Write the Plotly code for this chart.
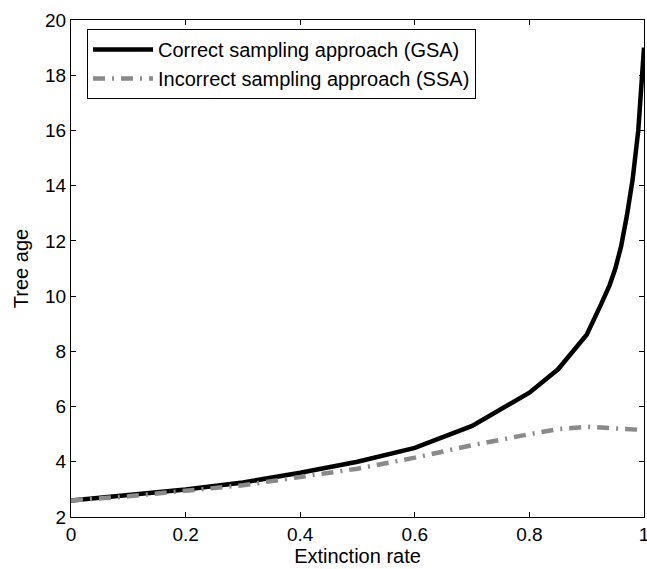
import plotly.graph_objects as go

gsa_x = [0.0, 0.1, 0.2, 0.3, 0.4, 0.5, 0.6, 0.7, 0.8, 0.85, 0.9, 0.925, 0.94, 0.95, 0.96, 0.97, 0.98, 0.99, 1.0]
gsa_y = [2.6, 2.8, 3.0, 3.25, 3.6, 4.0, 4.5, 5.3, 6.5, 7.35, 8.6, 9.7, 10.4, 11.0, 11.8, 12.9, 14.2, 16.0, 19.0]

ssa_x = [0.0, 0.1, 0.2, 0.3, 0.4, 0.5, 0.6, 0.7, 0.8, 0.85, 0.9, 0.95, 1.0]
ssa_y = [2.6, 2.75, 2.95, 3.15, 3.45, 3.75, 4.15, 4.6, 5.0, 5.18, 5.27, 5.2, 5.15]

x_ticks = [0, 0.2, 0.4, 0.6, 0.8, 1]
x_labels = ["0", "0.2", "0.4", "0.6", "0.8", "1"]
y_ticks = [2, 4, 6, 8, 10, 12, 14, 16, 18, 20]

font = "Liberation Sans, Arial, Helvetica, sans-serif"

fig = go.Figure()
fig.add_trace(go.Scatter(x=gsa_x, y=gsa_y, mode="lines",
                         name="Correct sampling approach (GSA)",
                         line=dict(color="black", width=4.5)))
fig.add_trace(go.Scatter(x=ssa_x, y=ssa_y, mode="lines",
                         name="Incorrect sampling approach (SSA)",
                         line=dict(color="#8a8a8a", width=4.5, dash="12px,7px,2px,7px")))

axis_common = dict(showline=True, linecolor="black", linewidth=1, mirror="ticks",
                   ticks="inside", ticklen=5, tickcolor="black", showgrid=False,
                   zeroline=False, ticklabeloverflow="allow", automargin=False,
                   tickfont=dict(size=19, color="black", family=font))

fig.update_layout(
    width=647, height=569,
    margin=dict(l=71, r=3, t=20, b=52),
    paper_bgcolor="white", plot_bgcolor="white",
    font=dict(family=font, color="black"),
    xaxis=dict(range=[0, 1], tickvals=x_ticks, ticktext=x_labels,
               title=dict(text="Extinction rate", font=dict(size=20, color="black", family=font), standoff=3),
               **axis_common),
    yaxis=dict(range=[2, 20], tickvals=y_ticks,
               title=dict(text="Tree age", font=dict(size=20, color="black", family=font), standoff=11),
               **axis_common),
    legend=dict(x=0.028, y=0.982, xanchor="left", yanchor="top",
                bordercolor="black", borderwidth=1, bgcolor="white",
                font=dict(size=20, color="black"), itemwidth=60,
                tracegroupgap=0),
    showlegend=True,
)

fig.write_html("out.html")
